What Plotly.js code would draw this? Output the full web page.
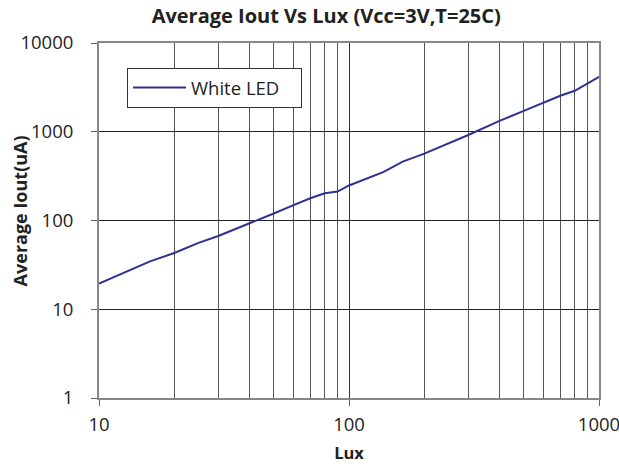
<!DOCTYPE html>
<html><head><meta charset="utf-8">
<script src="https://cdn.plot.ly/plotly-3.0.1.min.js"></script>
<style>html,body{margin:0;padding:0;background:#fff}</style>
</head><body><div id="chart" style="width:619px;height:464px"></div>
<script>
const luxValues = [10, 12.5, 16, 20, 22.4, 25, 30, 40, 50, 60, 70, 80, 90, 100, 110, 137, 164, 200, 300, 400, 500, 600, 700, 800, 900, 1000];
const ioutValues = [19.5, 25.5, 34.6, 43, 49, 56, 67, 92, 120, 149, 178, 203, 212, 248, 277, 351, 460, 567, 920, 1325, 1718, 2138, 2541, 2895, 3510, 4150];
const seriesName = "White LED";
const xTickVals = [10, 100, 1000];
const xTickText = ["10", "100", "1000"];
const yTickVals = [1, 10, 100, 1000, 10000];
const yTickText = ["1", "10", "100", "1000", "10000"];
const xMinorVals = [20,30,40,50,60,70,80,90,200,300,400,500,600,700,800,900];
const xTitle = "Lux";
const yTitle = "Average Iout(uA)";

const font = "Open Sans, Noto Sans, sans-serif";
const trace = {
  x: luxValues, y: ioutValues, type: "scatter", mode: "lines", name: seriesName,
  line: {color: "#2E3192", width: 2}
};
const layout = {
  width: 619, height: 464,
  margin: {l: 99, r: 20, t: 43, b: 66},
  paper_bgcolor: "#fff", plot_bgcolor: "#fff",
  font: {family: font, color: "#222", size: 18.5},
  title: {text: "<b>Average Iout Vs Lux (Vcc=3V,T=25C)</b>", x: 0.527, xref: "container", xanchor: "center", y: 0.965, yanchor: "middle", font: {size: 20, color: "#222"}},
  showlegend: true,
  legend: {orientation: "h", x: 0.056, y: 0.93, xanchor: "left", yanchor: "top", bgcolor: "#fff", bordercolor: "#333", borderwidth: 1, font: {size: 18.5}, itemwidth: 53, entrywidth: 105, entrywidthmode: "pixels", tracegroupgap: 0},
  xaxis: {
    type: "log", range: [1, 3], tickmode: "array", tickvals: xTickVals, ticktext: xTickText,
    showgrid: true, gridcolor: "#333", gridwidth: 1,
    minor: {tickmode: "array", tickvals: xMinorVals, showgrid: true, gridcolor: "#555", gridwidth: 1, ticks: ""},
    showline: true, linecolor: "#888", linewidth: 2, mirror: true,
    ticks: "outside", ticklen: 6, tickcolor: "#666", tickwidth: 1, ticklabelstandoff: 3, ticklabeloverflow: "allow",
    title: {text: "<b>" + xTitle + "</b>", font: {size: 16.5}, standoff: 14},
    zeroline: false
  },
  yaxis: {
    type: "log", range: [0, 4], tickmode: "array", tickvals: yTickVals, ticktext: yTickText,
    showgrid: true, gridcolor: "#222", gridwidth: 1,
    showline: true, linecolor: "#888", linewidth: 2, mirror: true,
    ticks: "outside", ticklen: 6, tickcolor: "#666", tickwidth: 1, ticklabelstandoff: 14, ticklabeloverflow: "allow",
    zeroline: false
  },
  annotations: [{
    text: "<b>" + yTitle + "</b>", xref: "paper", yref: "paper", x: -0.159, y: 0.527,
    xanchor: "center", yanchor: "middle", textangle: -90, showarrow: false, font: {size: 18, color: "#222"}
  }]
};
Plotly.newPlot("chart", [trace], layout, {displayModeBar: false, staticPlot: true});
</script></body></html>
